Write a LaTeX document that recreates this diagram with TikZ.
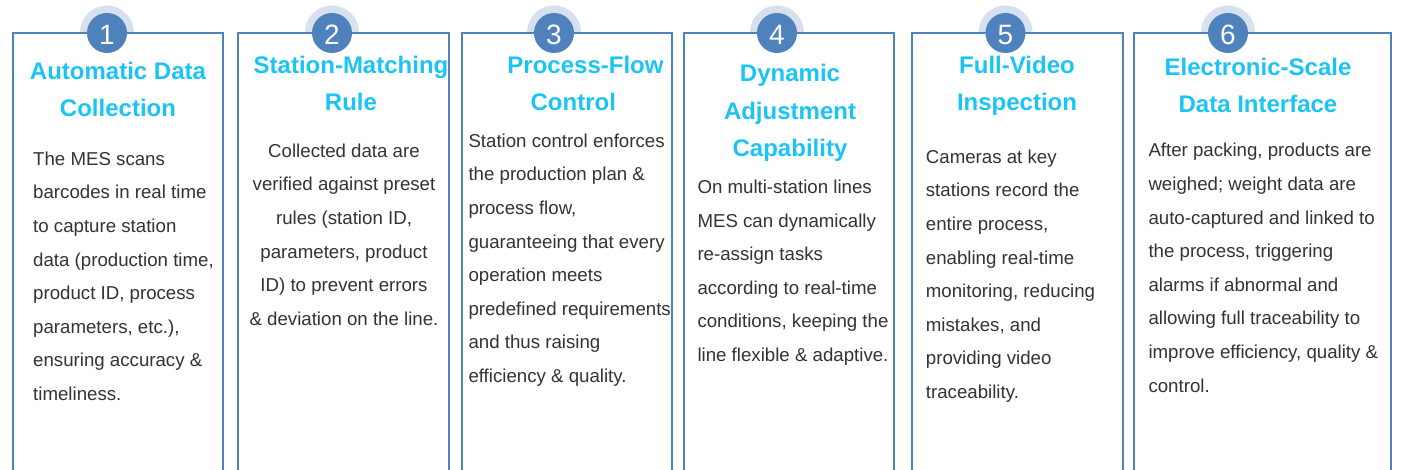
\documentclass[tikz,border=0pt]{standalone}
\usepackage{fontspec}
\setmainfont{Liberation Sans}
\definecolor{boxblue}{RGB}{79,129,189}
\definecolor{halo}{RGB}{214,224,238}
\definecolor{titlecyan}{RGB}{28,196,245}
\definecolor{bodygray}{RGB}{51,51,51}
\begin{document}
\begin{tikzpicture}[x=1pt,y=-1pt,
  frame/.style={draw=boxblue,line width=2pt,fill=white},
  halocirc/.style={fill=halo,draw=none},
  numcirc/.style={circle,fill=boxblue,minimum size=40pt,inner sep=0pt,text=white,font=\fontsize{28}{28}\selectfont},
  ttl/.style={anchor=north,inner sep=0pt,align=center,text=titlecyan,font=\bfseries\fontsize{24}{37.5}\selectfont},
  bodyl/.style={anchor=north west,inner sep=0pt,align=left,text=bodygray,font=\fontsize{18.67}{33.6}\selectfont},
  bodyc/.style={anchor=north,inner sep=0pt,align=center,text=bodygray,font=\fontsize{18.67}{33.6}\selectfont}]
\useasboundingbox (0,0) rectangle (1403,470);
\fill[white] (0,0) rectangle (1403,470);
% halos (behind the frames)
\foreach \cx in {107,332,554,777,1005.5,1228}{
  \fill[halocirc] (\cx,32.5) circle (27);
}
% frames (open at the bottom)
\draw[frame] (13,471) -- (13,33) -- (223,33) -- (223,471);
\draw[frame] (238,471) -- (238,33) -- (449,33) -- (449,471);
\draw[frame] (461.5,471) -- (461.5,33) -- (671.5,33) -- (671.5,471);
\draw[frame] (684,471) -- (684,33) -- (894,33) -- (894,471);
\draw[frame] (912,471) -- (912,33) -- (1123,33) -- (1123,471);
\draw[frame] (1134,471) -- (1134,33) -- (1390.5,33) -- (1390.5,471);
% number badges
\foreach \cx/\n in {107/1,332/2,554/3,777/4,1005.5/5,1228/6}{
  \node[numcirc] (c\n) at (\cx,33) {};
  \node[text=white,inner sep=0pt,font=\fontsize{28}{28}\selectfont] (n\n) at (\cx,35) {\n};
}
% titles
\node[ttl] (t1) at (118,52.75) {\strut Automatic Data\\Collection};
\node[ttl] (t2) at (351,47) {\strut Station-Matching\\Rule};
\node[ttl] (t3) at (585.5,47) {\strut Process-Flow\\Control\hspace*{24.4pt}};
\node[ttl] (t4) at (790,55.4) {\strut Dynamic\\Adjustment\\Capability};
\node[ttl] (t5) at (1017,47) {\strut Full-Video\\Inspection};
\node[ttl] (t6) at (1258,48.75) {\strut Electronic-Scale\\Data Interface};
% bodies
\node[bodyl] (b1) at (33,141.5) {\strut The MES scans\\barcodes in real time\\to capture station\\data (production time,\\product ID, process\\parameters, etc.),\\ensuring accuracy \&\\timeliness.};
\node[bodyc] (b2) at (344,133.5) {\strut Collected data are\\verified against preset\\rules (station ID,\\parameters, product\\ID) to prevent errors\\\& deviation on the line.};
\node[bodyl] (b3) at (468.3,123.5) {\strut Station control enforces\\the production plan \&\\process flow,\\guaranteeing that every\\operation meets\\predefined requirements\\and thus raising\\efficiency \& quality.};
\node[bodyl] (b4) at (697.3,169.8) {\strut On multi-station lines\\MES can dynamically\\re-assign tasks\\according to real-time\\conditions, keeping the\\line flexible \& adaptive.};
\node[bodyl] (b5) at (925.7,139.6) {\strut Cameras at key\\stations record the\\entire process,\\enabling real-time\\monitoring, reducing\\mistakes, and\\providing video\\traceability.};
\node[bodyl] (b6) at (1148.3,133.2) {\strut After packing, products are\\weighed; weight data are\\auto-captured and linked to\\the process, triggering\\alarms if abnormal and\\allowing full traceability to\\improve efficiency, quality \&\\control.};
\end{tikzpicture}
\end{document}
